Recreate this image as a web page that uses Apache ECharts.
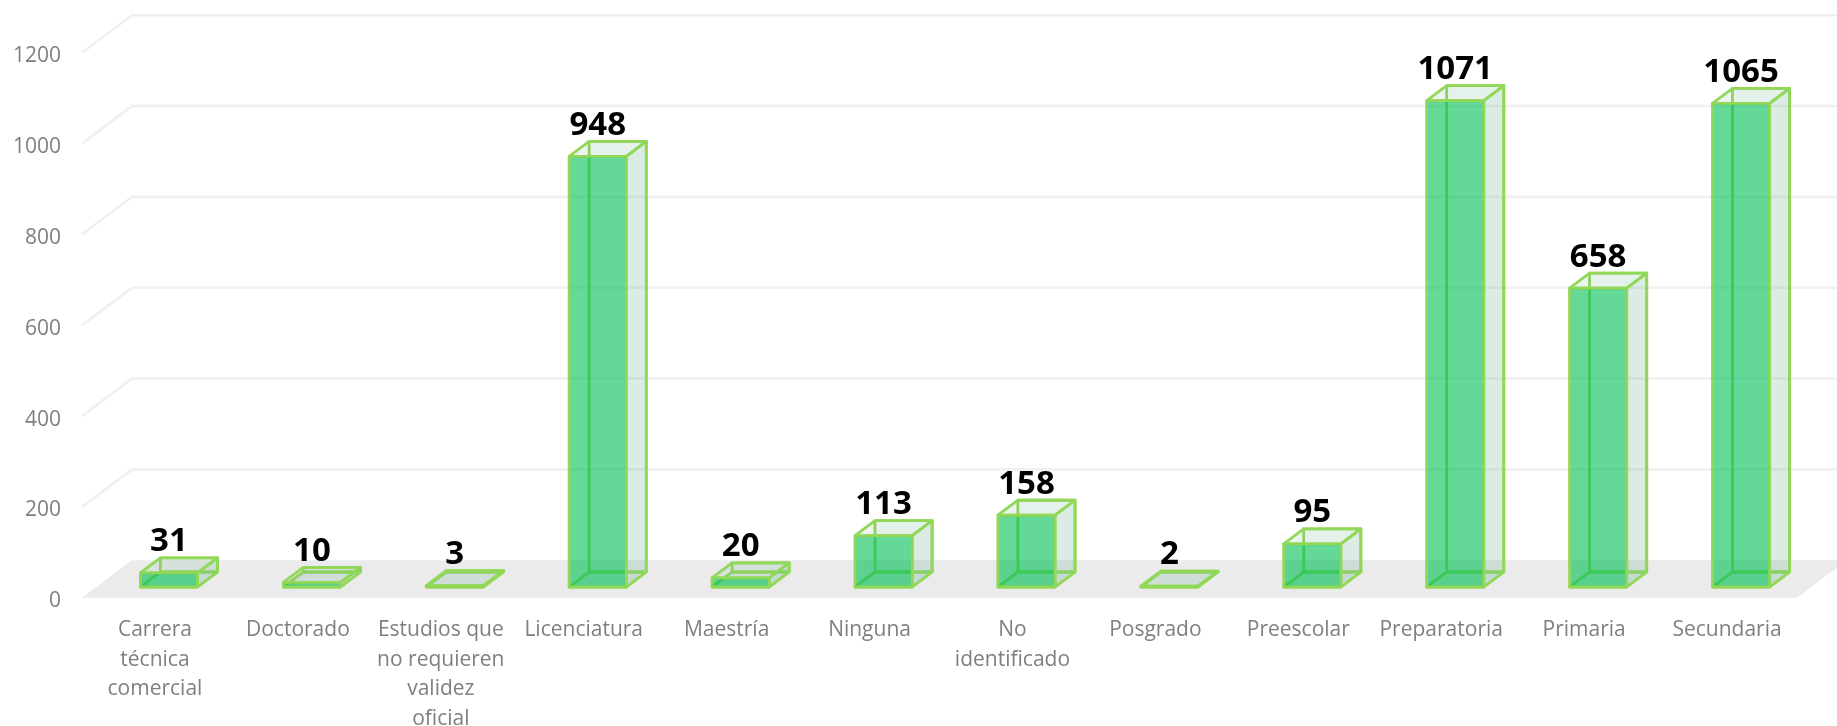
<!DOCTYPE html>
<html><head><meta charset="utf-8">
<style>html,body{margin:0;padding:0;background:#fff}#c{width:1837px;height:726px}</style>
<script src="https://cdn.jsdelivr.net/npm/echarts@6/dist/echarts.min.js"></script>
</head><body><div id="c"></div>
<script>
const categories = ["Carrera\ntécnica\ncomercial","Doctorado","Estudios que\nno requieren\nvalidez\noficial","Licenciatura","Maestría","Ninguna","No\nidentificado","Posgrado","Preescolar","Preparatoria","Primaria","Secundaria"];
const values = [31,10,3,948,20,113,158,2,95,1071,658,1065];
const ticks = [200,400,600,800,1000,1200];

const FONT = '"Open Sans","Noto Sans",sans-serif';
const WALL = {dx:50, dy:-37.5};
const BAR = {ox:15.5, oy:-10.7, dx:20, dy:-15, halfRatio:0.2};
const EDGE = '#92d858';

function wallItem(params, api){
  const cs = params.coordSys;
  const p = api.coord([0, api.value(1)]);
  const x0 = cs.x, y = p[1];
  return {type:'polyline', silent:true, shape:{points:[[x0,y],[x0+WALL.dx,y+WALL.dy],[cs.x+cs.width+WALL.dx,y+WALL.dy]]},
    style:{stroke:'#f0f0f0', lineWidth:2.6, fill:null}};
}
function floorItem(params, api){
  const cs = params.coordSys;
  const y = api.coord([0, 0])[1];
  const l = cs.x, r = cs.x+cs.width;
  return {type:'polygon', silent:true, shape:{points:[[l,y],[l+WALL.dx,y+WALL.dy],[r+WALL.dx,y+WALL.dy],[r,y]]},
    style:{fill:'#ebebeb'}};
}
function barItem(params, api){
  const v = api.value(1);
  const base = api.coord([api.value(0), 0]);
  const top = api.coord([api.value(0), v]);
  const hw = api.size([1,0])[0]*BAR.halfRatio;
  const xl = base[0]+BAR.ox-hw, xr = base[0]+BAR.ox+hw;
  const yb = base[1]+BAR.oy, yt = top[1]+BAR.oy;
  const dx = BAR.dx, dy = BAR.dy;
  const line = {stroke:EDGE, lineWidth:2.8, lineJoin:'round'};
  const poly = (pts, fill, stroke) => ({type:'polygon', silent:true, shape:{points:pts},
    style: Object.assign({fill:fill}, stroke===false ? {stroke:null} : line)});
  const seg = (a,b) => ({type:'polyline', silent:true, shape:{points:[a,b]}, style:Object.assign({fill:null}, line)});
  return {type:'group', children:[
    poly([[xl+dx,yb+dy],[xr+dx,yb+dy],[xr+dx,yt+dy],[xl+dx,yt+dy]],'rgba(110,180,145,0.04)'),
    seg([xl,yb],[xl+dx,yb+dy]),
    poly([[xl,yb],[xr,yb],[xr+dx,yb+dy],[xl+dx,yb+dy]],'rgba(110,180,145,0.10)'),
    poly([[xr,yb],[xr+dx,yb+dy],[xr+dx,yt+dy],[xr,yt]],'rgba(110,180,145,0.21)'),
    poly([[xl,yt],[xr,yt],[xr+dx,yt+dy],[xl+dx,yt+dy]],'rgba(110,180,145,0.14)'),
    poly([[xl,yb],[xr,yb],[xr,yt],[xl,yt]],'rgba(0,192,85,0.6)',false),
    poly([[xl,yb],[xr,yb],[xr,yt],[xl,yt]],'rgba(0,0,0,0)'),
    {type:'text', silent:true, style:{text:String(v), x:(xl+xr)/2, y:yt+dy-16, align:'center', verticalAlign:'middle',
      fill:'#000', font:'bold 33px '+FONT}}
  ]};
}

const chart = echarts.init(document.getElementById('c'), null, {renderer:'canvas'});
chart.setOption({
  animation:false,
  backgroundColor:'#fff',
  grid:{left:82, right:40, top:52.7, bottom:128.3, containLabel:false, outerBoundsMode:'none'},
  xAxis:{type:'category', data:categories, axisLine:{show:false}, axisTick:{show:false}, splitLine:{show:false},
    axisLabel:{interval:0, color:'#7f7f7f', fontFamily:FONT, fontSize:21, lineHeight:29.5, margin:18, hideOverlap:false, padding:[0,0,0,3]}},
  yAxis:{type:'value', min:0, max:1200, interval:200, axisLine:{show:false}, axisTick:{show:false}, splitLine:{show:false},
    axisLabel:{color:'#7f7f7f', fontFamily:FONT, fontSize:21, margin:21, verticalAlign:'top', lineHeight:7, formatter:v=>String(v)}},
  series:[
    {type:'custom', name:'suelo', coordinateSystem:'cartesian2d', renderItem:floorItem, data:[[categories[0],0]], clip:false, z:1, silent:true},
    {type:'custom', name:'pared', coordinateSystem:'cartesian2d', renderItem:wallItem, data:ticks.map(t=>[categories[0],t]), clip:false, z:1, silent:true},
    {type:'custom', name:'valores', coordinateSystem:'cartesian2d', renderItem:barItem, data:categories.map((c,i)=>[i,values[i]]), encode:{x:0,y:1}, clip:false, z:2}
  ]
});
</script></body></html>
